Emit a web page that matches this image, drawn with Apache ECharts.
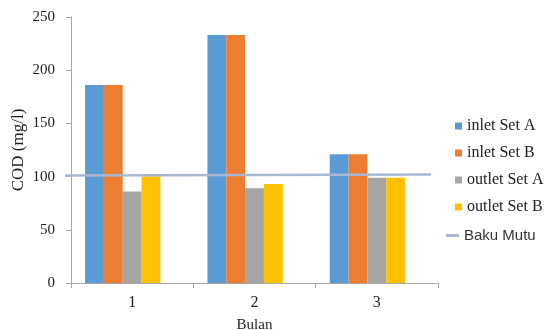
<!DOCTYPE html>
<html>
<head>
<meta charset="utf-8">
<script src="https://cdn.jsdelivr.net/npm/echarts@6/dist/echarts.min.js"></script>
<style>
  html, body { margin: 0; padding: 0; background: #fff; }
  #chart { width: 555px; height: 330px; }
</style>
</head>
<body>
<div id="chart"></div>
<script>
// Monthly COD readings (mg/l) at inlet and outlet of two treatment sets
var months = ['1', '2', '3'];
var inletSetA = [186, 233, 121];
var inletSetB = [186, 233, 121];
var outletSetA = [86, 89, 99];
var outletSetB = [100, 93, 99];
// Quality standard line (start and end of the plot width)
var bakuMutu = [[0, 101], [1, 102]];
var yTicks = { min: 0, max: 250, step: 50 };

var serif = '"Liberation Serif", "DejaVu Serif", serif';
var sans = '"Liberation Sans", Arial, sans-serif';
var axisGray = '#a6a6a6';
var textColor = '#1e1e1e';

function barSeries(name, data, color) {
  return {
    name: name, type: 'bar', data: data,
    barGap: '0%', barCategoryGap: '23%',
    itemStyle: { color: color },
    emphasis: { disabled: true }
  };
}

var chart = echarts.init(document.getElementById('chart'));
chart.setOption({
  animation: false,
  grid: [
    { left: 71, right: 117, top: 17, bottom: 47, containLabel: false, outerBoundsMode: 'none' },
    { left: 65, right: 124, top: 17, bottom: 47, containLabel: false, outerBoundsMode: 'none' }
  ],
  xAxis: [
    {
      type: 'category', data: months, gridIndex: 0,
      name: 'Bulan', nameLocation: 'middle', nameGap: 35,
      nameTextStyle: { fontFamily: serif, fontSize: 15, color: textColor },
      axisLine: { lineStyle: { color: axisGray, width: 1 } },
      axisTick: { show: true, length: 5, lineStyle: { color: axisGray } },
      axisLabel: { fontFamily: serif, fontSize: 16, color: textColor, margin: 12 }
    },
    { type: 'value', gridIndex: 1, min: 0, max: 1, show: false }
  ],
  yAxis: [
    {
      type: 'value', gridIndex: 0, min: yTicks.min, max: yTicks.max, interval: yTicks.step,
      name: 'COD (mg/l)', nameLocation: 'middle', nameGap: 44, nameRotate: 90,
      nameMoveOverlap: false,
      nameTextStyle: { fontFamily: serif, fontSize: 17, color: textColor },
      axisLine: { show: true, lineStyle: { color: axisGray, width: 1 } },
      axisTick: { show: true, length: 5, lineStyle: { color: axisGray } },
      axisLabel: { fontFamily: serif, fontSize: 15, color: textColor, margin: 16 },
      splitLine: { show: false }
    },
    { type: 'value', gridIndex: 1, min: yTicks.min, max: yTicks.max, show: false }
  ],
  legend: [
    {
      orient: 'vertical', left: 455, top: 118, padding: 0,
      itemWidth: 7, itemHeight: 7, itemGap: 11, itemTextGap: 4,
      icon: 'rect',
      textStyle: { fontFamily: serif, fontSize: 16, color: textColor },
      data: ['inlet Set A', 'inlet Set B', 'outlet Set A', 'outlet Set B']
    },
    {
      orient: 'vertical', left: 446, top: 228, padding: 0,
      itemWidth: 13, itemHeight: 3, itemTextGap: 9,
      textStyle: { fontFamily: sans, fontSize: 15, color: '#333' },
      data: [{ name: 'Baku Mutu', icon: 'rect' }]
    }
  ],
  series: [
    barSeries('inlet Set A', inletSetA, '#5b9bd5'),
    barSeries('inlet Set B', inletSetB, '#ed7d31'),
    barSeries('outlet Set A', outletSetA, '#a5a5a5'),
    barSeries('outlet Set B', outletSetB, '#ffc000'),
    // reserved fifth slot in each cluster (kept empty)
    { type: 'bar', data: [null, null, null], barGap: '0%', barCategoryGap: '23%' },
    {
      name: 'Baku Mutu', type: 'line', xAxisIndex: 1, yAxisIndex: 1,
      data: bakuMutu, symbol: 'none',
      lineStyle: { color: '#a8b8d2', width: 2.5 },
      itemStyle: { color: '#a8b8d2' },
      emphasis: { disabled: true }
    }
  ]
});
</script>
</body>
</html>
